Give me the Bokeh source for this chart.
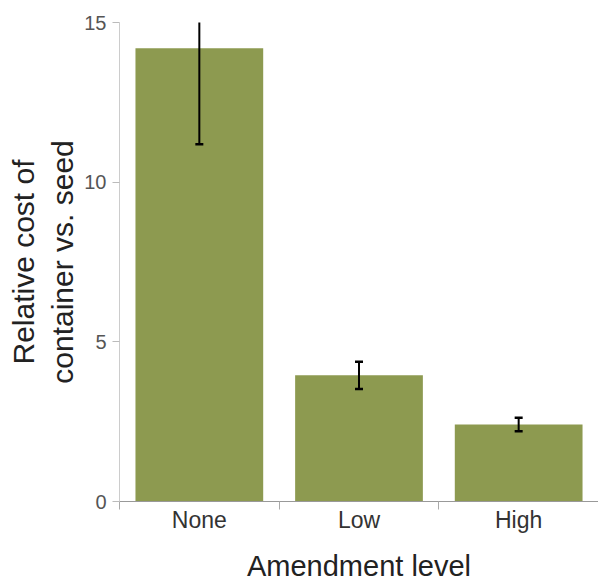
from bokeh.plotting import figure
from bokeh.models import (FactorRange, Range1d, LinearAxis, CategoricalAxis,
                          FixedTicker, ColumnDataSource)
from bokeh.embed import file_html
from bokeh.resources import INLINE

# ---- data ----
levels = ["None", "Low", "High"]
cost = [14.19, 3.95, 2.41]
err = [3.0, 0.43, 0.21]
y_ticks = [0, 5, 10, 15]
boundary_ticks = [0, 1, 2]   # category boundaries (synthetic coords)

lower = [c - e for c, e in zip(cost, err)]
upper = [c + e for c, e in zip(cost, err)]
src = ColumnDataSource(dict(level=levels, cost=cost, lower=lower, upper=upper))

FONT = "Liberation Sans"

p = figure(x_range=FactorRange(*levels), y_range=Range1d(0, 15),
           width=598, height=584, output_backend="svg", toolbar_location=None,
           x_axis_location=None, min_border_left=119, min_border_top=22,
           min_border_right=0, min_border_bottom=0)
p.outline_line_color = None
p.grid.visible = False
p.background_fill_color = "white"
p.border_fill_color = "white"

p.vbar(x="level", top="cost", width=0.8, source=src,
       fill_color="#8d9a50", line_color=None)
p.segment(x0="level", y0="lower", x1="level", y1="upper", source=src,
          line_color="black", line_width=2)
p.scatter(x="level", y="lower", source=src, marker="dash", size=8,
          line_color="black", line_width=2.5)
p.scatter(x="level", y="upper", source=src, marker="dash", size=8,
          line_color="black", line_width=2.5)

# y axis
ya = p.yaxis[0]
ya.ticker = FixedTicker(ticks=y_ticks)
ya.minor_tick_line_color = None
ya.major_tick_out = 7
ya.major_tick_in = 0
ya.axis_line_color = "#cccccc"
ya.major_tick_line_color = "#bbbbbb"
ya.major_label_text_font = FONT
ya.major_label_text_font_size = "20px"
ya.major_label_text_color = "#555555"
ya.major_label_standoff = 6
ya.axis_label = "Relative cost of\ncontainer vs. seed"
ya.axis_label_text_font = FONT
ya.axis_label_text_font_size = "30px"
ya.axis_label_text_font_style = "normal"
ya.axis_label_text_color = "#222222"
ya.axis_label_standoff = 2

# x axis: boundary ticks (no labels drawn) + category labels
tick_axis = LinearAxis(ticker=FixedTicker(ticks=boundary_ticks),
                       major_tick_out=8, major_tick_in=0,
                       minor_tick_line_color=None,
                       major_label_text_font_size="1px",
                       major_label_text_color=None,
                       major_label_standoff=0,
                       axis_line_color="#999999", major_tick_line_color="#aaaaaa")
cat_axis = CategoricalAxis(major_tick_line_color=None, axis_line_color=None,
                           major_tick_out=0, major_tick_in=0,
                           major_label_text_font=FONT,
                           major_label_text_font_size="23px",
                           major_label_text_color="#333333",
                           major_label_standoff=-3,
                           axis_label="Amendment level",
                           axis_label_text_font=FONT,
                           axis_label_text_font_size="29px",
                           axis_label_text_font_style="normal",
                           axis_label_text_color="#222222",
                           axis_label_standoff=14)
p.add_layout(tick_axis, "below")
p.add_layout(cat_axis, "below")

open("out.html", "w").write(file_html(p, INLINE))
